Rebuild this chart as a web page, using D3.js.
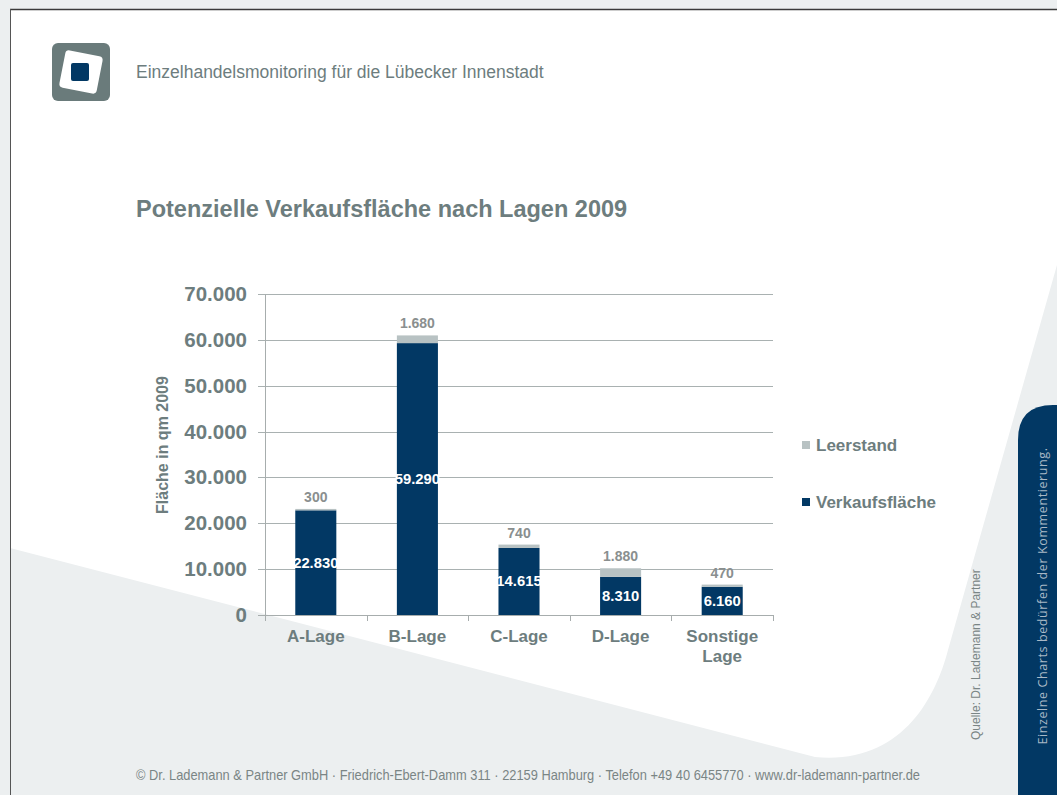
<!DOCTYPE html>
<html>
<head>
<meta charset="utf-8">
<script src="https://cdn.jsdelivr.net/npm/d3@7"></script>
<style>
  body { margin: 0; background: #fff; }
  svg { display: block; font-family: "Liberation Sans", Arial, sans-serif; }
</style>
</head>
<body>
<div id="root"></div>
<script>
const categories = ["A-Lage", "B-Lage", "C-Lage", "D-Lage", "Sonstige Lage"];
const verkaufsflaeche = [22830, 59290, 14615, 8310, 6160];
const leerstand = [300, 1680, 740, 1880, 470];
const yTicks = [0, 10000, 20000, 30000, 40000, 50000, 60000, 70000];
const seriesNames = ["Leerstand", "Verkaufsfläche"];

const width = 1057;
const height = 795;
const navy = "#023864";
const lightGray = "#b8c2c3";
const textGray = "#6d7d7e";

const fmt = d3.formatLocale({ decimal: ",", thousands: ".", grouping: [3], currency: ["", ""] }).format(",d");

let svg = d3.select("#root").append("svg")
  .attr("width", width)
  .attr("height", height);

// background shapes
svg.append("rect").attr("width", width).attr("height", height).attr("fill", "#eceff0");
svg.append("path")
  .attr("d", "M10,10 L1057,10 L1057,265 L948,650 C935,700 900,765 815,757 L10,548 Z")
  .attr("fill", "#fff");

// frame lines
svg.append("line").attr("x1", 10).attr("x2", width).attr("y1", 9.5).attr("y2", 9.5)
  .attr("stroke", "#3a3a3a").attr("stroke-width", 1.5);
svg.append("line").attr("x1", 10.5).attr("x2", 10.5).attr("y1", 9).attr("y2", height)
  .attr("stroke", "#555").attr("stroke-width", 1);

// right tab
svg.append("path")
  .attr("d", "M1018,795 L1018,440 Q1018,405 1053,405 L1057,405 L1057,795 Z")
  .attr("fill", navy);
svg.append("text")
  .attr("transform", "translate(1047,596) rotate(-90)")
  .attr("text-anchor", "middle")
  .style("font-family", "'Open Sans', sans-serif")
  .style("font-size", "12.5px")
  .style("letter-spacing", "0.6px")
  .attr("fill", "#a9b8c6")
  .text("Einzelne Charts bedürfen der Kommentierung.");

// logo
svg.append("rect").attr("x", 52).attr("y", 43).attr("width", 58).attr("height", 58).attr("rx", 6)
  .attr("fill", "#6a7b7b");
svg.append("rect").attr("x", 62).attr("y", 53).attr("width", 38).attr("height", 38).attr("rx", 4)
  .attr("fill", "#fff").attr("transform", "rotate(11,81,72)");
svg.append("rect").attr("x", 71).attr("y", 63).attr("width", 18).attr("height", 18).attr("rx", 2)
  .attr("fill", navy);

svg.append("text").attr("x", 136).attr("y", 78)
  .style("font-size", "17.5px").attr("fill", textGray)
  .text("Einzelhandelsmonitoring für die Lübecker Innenstadt");

svg.append("text").attr("x", 136).attr("y", 217)
  .style("font-size", "23.5px").style("font-weight", "bold").attr("fill", textGray)
  .text("Potenzielle Verkaufsfläche nach Lagen 2009");

// chart
const plotLeft = 265, plotRight = 773, plotTop = 294, plotBottom = 615;

let x = d3.scaleBand().domain(categories).range([plotLeft, plotRight]).paddingInner(0.596).paddingOuter(0.298);
let xOuter = d3.scaleBand().domain(categories).range([plotLeft, plotRight]);
let y = d3.scaleLinear().domain([0, 70000]).range([plotBottom, plotTop]);

// gridlines
svg.append("g").selectAll("line").data(yTicks).enter().append("line")
  .attr("x1", plotLeft - 7).attr("x2", plotRight)
  .attr("y1", d => Math.round(y(d)) + 0.5).attr("y2", d => Math.round(y(d)) + 0.5)
  .attr("stroke", d => d === 0 ? "#a7adad" : "#a9b1b1").attr("stroke-width", 1);

svg.append("line").attr("x1", plotLeft + 0.5).attr("x2", plotLeft + 0.5)
  .attr("y1", plotTop).attr("y2", plotBottom + 6).attr("stroke", "#a7adad");

// x ticks at category boundaries
svg.append("g").selectAll("line").data(categories).enter().append("line")
  .attr("x1", d => Math.round(xOuter(d) + xOuter.bandwidth()) + 0.5)
  .attr("x2", d => Math.round(xOuter(d) + xOuter.bandwidth()) + 0.5)
  .attr("y1", plotBottom).attr("y2", plotBottom + 6).attr("stroke", "#a7adad");

// y tick labels
svg.append("g").selectAll("text").data(yTicks).enter().append("text")
  .attr("x", 247).attr("y", d => y(d) + 7)
  .attr("text-anchor", "end")
  .style("font-size", "20.5px").style("font-weight", "bold").attr("fill", textGray)
  .text(d => fmt(d));

svg.append("text")
  .attr("transform", "translate(168,445) rotate(-90)")
  .attr("text-anchor", "middle")
  .style("font-size", "16px").style("font-weight", "bold").attr("fill", textGray)
  .text("Fläche in qm 2009");

// x labels
let xl = svg.append("g").selectAll("text").data(categories).enter().append("text")
  .attr("x", d => x(d) + x.bandwidth() / 2)
  .attr("y", 642)
  .attr("text-anchor", "middle")
  .style("font-size", "17px").style("font-weight", "bold").attr("fill", textGray);
xl.each(function (d) {
  const parts = d.split(" ");
  d3.select(this).selectAll("tspan").data(parts).enter().append("tspan")
    .attr("x", x(d) + x.bandwidth() / 2)
    .attr("dy", (p, i) => i === 0 ? 0 : 20)
    .text(p => p);
});

// bars
svg.append("g").selectAll("rect").data(categories).enter().append("rect")
  .attr("x", d => x(d)).attr("width", x.bandwidth())
  .attr("y", (d, i) => y(verkaufsflaeche[i]))
  .attr("height", (d, i) => y(0) - y(verkaufsflaeche[i]))
  .attr("fill", navy);
svg.append("g").selectAll("rect").data(categories).enter().append("rect")
  .attr("x", d => x(d)).attr("width", x.bandwidth())
  .attr("y", (d, i) => y(verkaufsflaeche[i] + leerstand[i]))
  .attr("height", (d, i) => y(verkaufsflaeche[i]) - y(verkaufsflaeche[i] + leerstand[i]))
  .attr("fill", lightGray);

// labels in bars
svg.append("g").selectAll("text").data(categories).enter().append("text")
  .attr("x", d => x(d) + x.bandwidth() / 2)
  .attr("y", (d, i) => (y(0) + y(verkaufsflaeche[i])) / 2 + 5)
  .attr("text-anchor", "middle")
  .style("font-size", "14.8px").style("font-weight", "bold").attr("fill", "#fff")
  .text((d, i) => fmt(verkaufsflaeche[i]));

// labels above bars
svg.append("g").selectAll("text").data(categories).enter().append("text")
  .attr("x", d => x(d) + x.bandwidth() / 2)
  .attr("y", (d, i) => y(verkaufsflaeche[i] + leerstand[i]) - 7)
  .attr("text-anchor", "middle")
  .style("font-size", "14px").style("font-weight", "bold").attr("fill", "#8a8f8f")
  .text((d, i) => fmt(leerstand[i]));

// legend
let legend = svg.append("g").selectAll("g").data(seriesNames).enter().append("g")
  .attr("transform", (d, i) => "translate(802," + (445 + i * 57) + ")");
legend.append("rect").attr("x", 0).attr("y", -4).attr("width", 8).attr("height", 8)
  .attr("fill", (d, i) => i === 0 ? lightGray : navy);
legend.append("text").attr("x", 14).attr("y", 6)
  .style("font-size", "17px").style("font-weight", "bold").attr("fill", textGray)
  .text(d => d);

// source
svg.append("text")
  .attr("transform", "translate(980,740) rotate(-90)")
  .style("font-size", "12px").attr("fill", "#7a8585")
  .text("Quelle: Dr. Lademann  & Partner");

// footer
svg.append("text").attr("x", 136).attr("y", 780)
  .attr("textLength", 784).attr("lengthAdjust", "spacingAndGlyphs")
  .style("font-size", "15px").attr("fill", "#7a8585")
  .text("© Dr. Lademann & Partner GmbH · Friedrich-Ebert-Damm 311 · 22159 Hamburg · Telefon +49 40 6455770 · www.dr-lademann-partner.de");
</script>
</body>
</html>
